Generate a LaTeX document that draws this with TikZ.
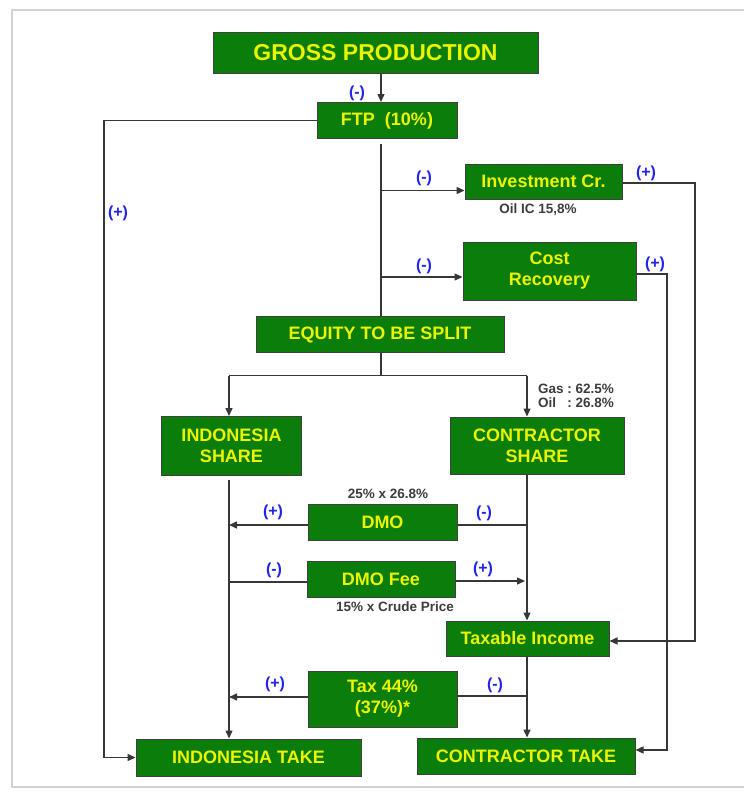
\documentclass[tikz,border=0pt]{standalone}
\usepackage{fontspec}
\setmainfont{Liberation Sans}
\usetikzlibrary{arrows.meta,calc}
\definecolor{boxgreen}{RGB}{10,125,10}
\definecolor{boxyellow}{RGB}{235,245,0}
\definecolor{signblue}{RGB}{35,35,235}
\definecolor{linegray}{RGB}{55,55,55}
\definecolor{notegray}{RGB}{60,60,60}
\begin{document}
\begin{tikzpicture}[x=1pt,y=-1pt,
  box/.style={draw=black!75, line width=1pt, fill=boxgreen, text=boxyellow,
    font=\bfseries\fontsize{18}{21}\selectfont, align=center, inner sep=0pt},
  conn/.style={draw=linegray, line width=1.4pt},
  arr/.style={conn, -{Triangle[length=8pt,width=7pt]}},
  sign/.style={text=signblue, font=\bfseries\fontsize{16}{18}\selectfont, inner sep=0pt},
  note/.style={text=notegray, font=\bfseries\fontsize{13.5}{16.5}\selectfont, inner sep=0pt, align=left},
  frame/.style={draw=black!18, line width=1.5pt}
]
\useasboundingbox (0,0) rectangle (744,798);
\draw[frame] (744,10) -- (12,10) -- (12,787) -- (744,787);

% nodes
\node[box, minimum width=325pt, minimum height=41pt, font=\bfseries\fontsize{23}{26}\selectfont] (gp) at (375.5,52.5) {GROSS PRODUCTION};
\node[box, minimum width=140pt, minimum height=36pt] (ftp) at (387,120.5) {FTP\ \ (10\%)};
\node[box, minimum width=157pt, minimum height=35pt] (inv) at (543.5,181.5) {Investment Cr.};
\node[box, minimum width=173pt, minimum height=58pt] (cost) at (549.5,271) {Cost\\Recovery};
\node[box, minimum width=248pt, minimum height=36pt] (eq) at (380,334.5) {EQUITY TO BE SPLIT};
\node[box, minimum width=140pt, minimum height=59pt] (ishare) at (231.5,446) {INDONESIA\\SHARE};
\node[box, minimum width=174pt, minimum height=57pt] (cshare) at (537,445.5) {CONTRACTOR\\SHARE};
\node[box, minimum width=149pt, minimum height=36pt] (dmo) at (382.5,522) {DMO};
\node[box, minimum width=148pt, minimum height=36pt] (dmofee) at (381,579) {DMO Fee};
\node[box, minimum width=163pt, minimum height=35pt] (taxable) at (527.5,638.5) {Taxable Income};
\node[box, minimum width=149pt, minimum height=56pt] (tax) at (382.5,699) {Tax 44\%\\(37\%)*};
\node[box, minimum width=225pt, minimum height=37pt] (itake) at (248.5,757.5) {INDONESIA TAKE};
\node[box, minimum width=218pt, minimum height=36pt] (ctake) at (526,756) {CONTRACTOR TAKE};

% helper coordinates
\coordinate (sp) at (381,0);
\coordinate (lft) at (104,0);
\coordinate (ix) at (229,0);
\coordinate (cx) at (527,0);
\coordinate (rx1) at (695,0);
\coordinate (rx2) at (667,0);
\coordinate (invin) at ($(inv.west)+(0,9)$);
\coordinate (costin) at ($(cost.west)+(0,6)$);
\coordinate (invout) at ($(inv.east)+(0,1.5)$);
\coordinate (costout) at ($(cost.east)+(0,3)$);
\coordinate (taxin) at ($(taxable.east)+(0,2.5)$);
\coordinate (ctin) at ($(ctake.east)+(0,-6)$);

% connectors
\draw[arr] (gp.south -| sp) -- (ftp.north -| sp);
\draw[arr] (ftp.west) -- (ftp.west -| lft) |- (itake.west);
\draw[conn] ($(ftp.south -| sp)+(0,5)$) -- (eq.north -| sp);
\draw[arr] (invin -| sp) -- (invin);
\draw[arr] (costin -| sp) -- (costin);
\draw[arr] (invout) -- (invout -| rx1) |- (taxin);
\draw[arr] (costout) -- (costout -| rx2) |- (ctin);
\draw[conn] (eq.south -| sp) -- ($(eq.south -| sp)+(0,22.5)$) coordinate (split);
\draw[conn] (ix |- split) -- (cx |- split);
\draw[arr] (ix |- split) -- (ix |- ishare.north);
\draw[arr] (cx |- split) -- (cx |- cshare.north);
\draw[arr] ($(ix |- ishare.south)+(0,4)$) -- (ix |- itake.north);
\draw[arr] (cx |- cshare.south) -- (cx |- taxable.north);
\draw[conn] ($(cx |- dmo.east)+(0,3)$) -- ($(dmo.east)+(0,3)$);
\draw[arr] ($(dmo.west)+(0,3)$) -- ($(ix |- dmo.west)+(0,3)$);
\draw[conn] ($(ix |- dmofee.west)+(0,3)$) -- ($(dmofee.west)+(0,3)$);
\draw[arr] ($(dmofee.east)+(0,2)$) -- ($(cx |- dmofee.east)+(-2,2)$);
\draw[arr] (cx |- taxable.south) -- (cx |- ctake.north);
\draw[conn] ($(cx |- tax.east)+(0,-3)$) -- ($(tax.east)+(0,-3)$);
\draw[arr] ($(tax.west)+(0,-2)$) -- ($(ix |- tax.west)+(0,-2)$);

% signs
\node[sign] (s1) at (357,93) {(-)};
\node[sign] (s2) at (118,213) {(+)};
\node[sign] (s3) at (424,178) {(-)};
\node[sign] (s4) at (646,173) {(+)};
\node[sign] (s5) at (424,266) {(-)};
\node[sign] (s6) at (655,264) {(+)};
\node[sign] (s7) at (273,512) {(+)};
\node[sign] (s8) at (484,513) {(-)};
\node[sign] (s9) at (274,570) {(-)};
\node[sign] (s10) at (483,569) {(+)};
\node[sign] (s11) at (275,684) {(+)};
\node[sign] (s12) at (495,685) {(-)};

% notes
\node[note] (n1) at (538,210) {Oil IC 15,8\%};
\node[note] (n2) at (388,494) {25\% x 26.8\%};
\node[note] (n3) at (395,607) {15\% x Crude Price};
\node[note, anchor=west] (n4) at (538,397) {\begin{tabular}{@{}l@{\ :\ }l@{}}Gas & 62.5\%\\[-2pt] Oil\ \ & 26.8\%\end{tabular}};
\end{tikzpicture}
\end{document}
